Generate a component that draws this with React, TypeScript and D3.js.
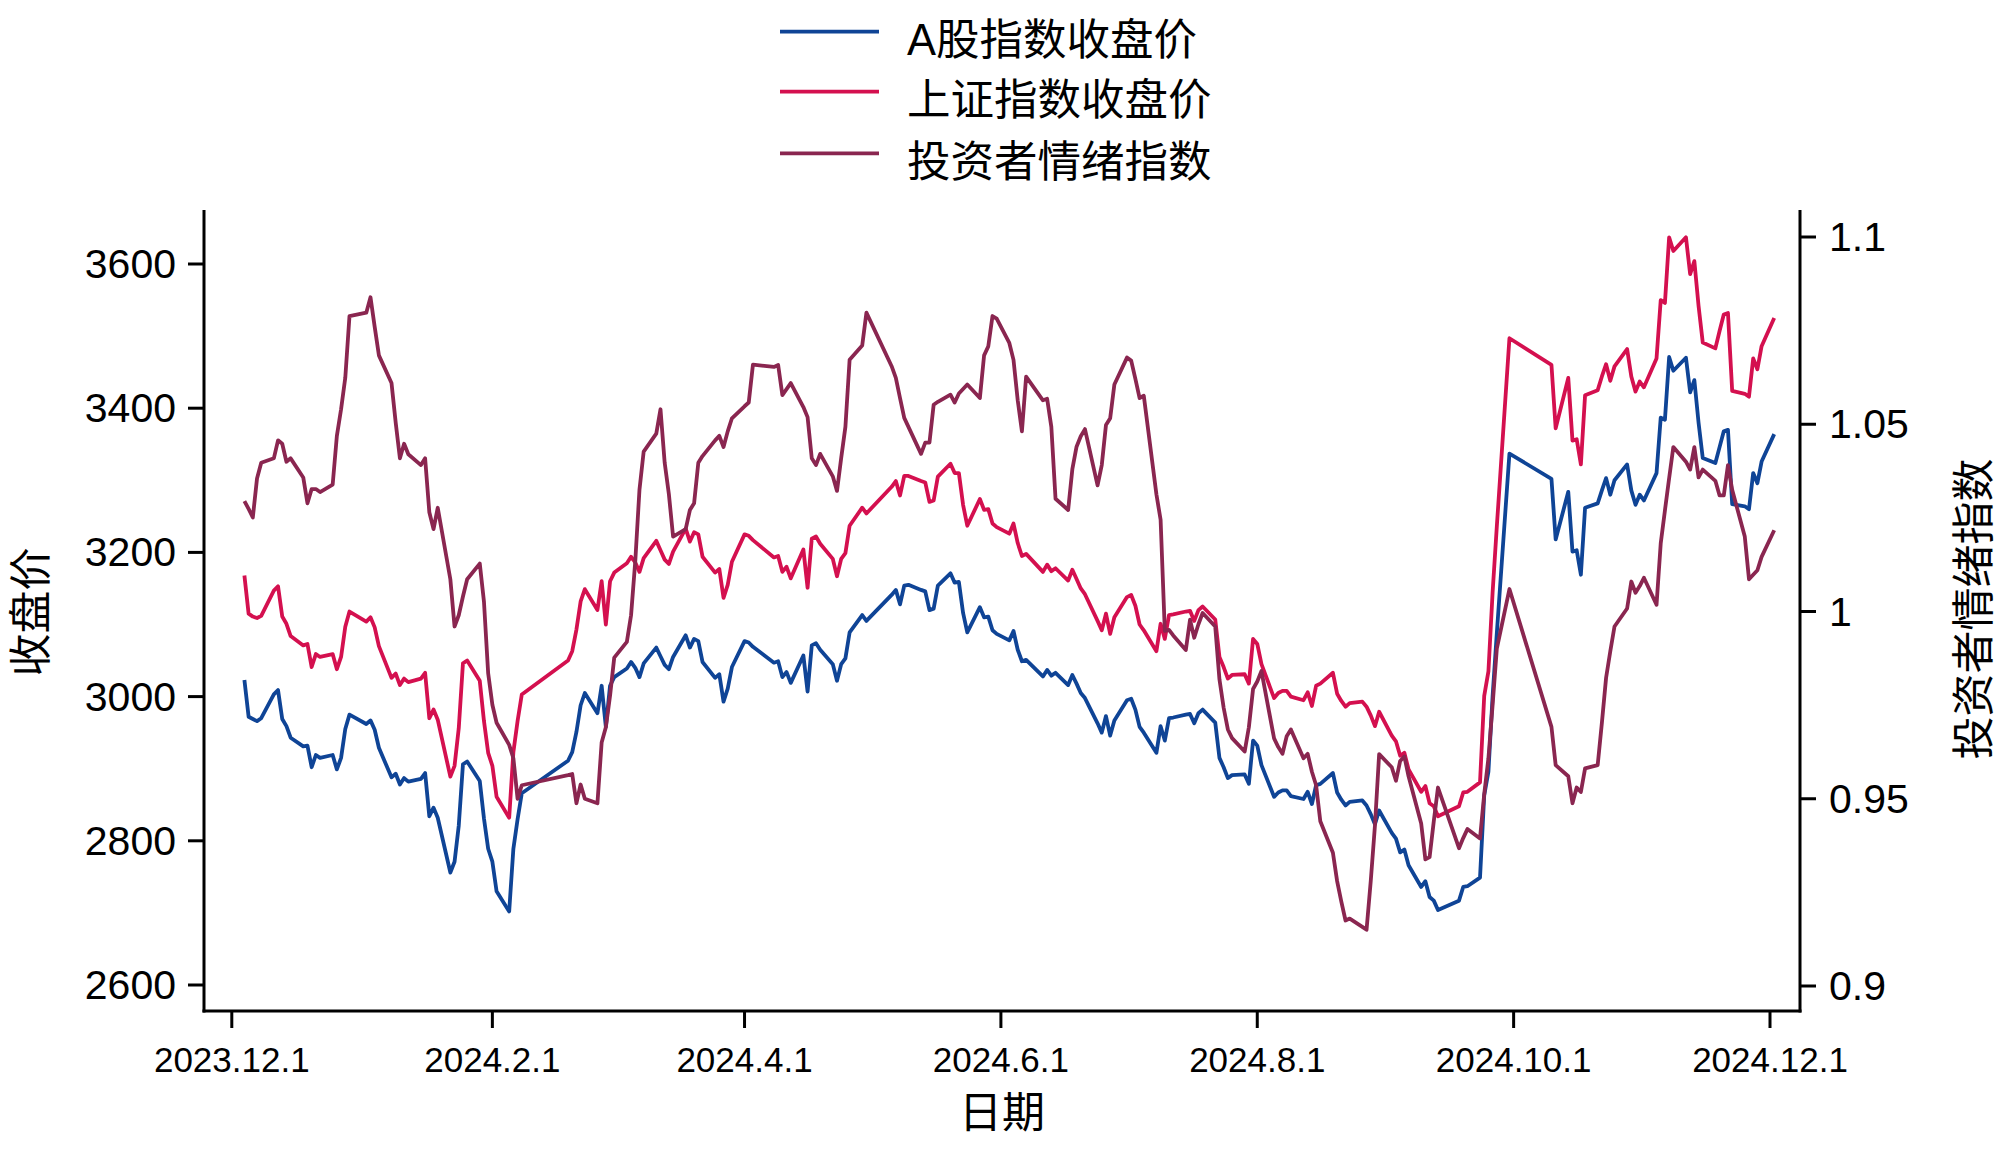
import React from 'react';
import * as d3 from 'd3';

// trading days (Oct 8-9 2024 are absent in the source data)
const tradeDays = [
  '2023-12-04','2023-12-05','2023-12-06','2023-12-07','2023-12-08','2023-12-11','2023-12-12','2023-12-13','2023-12-14','2023-12-15',
  '2023-12-18','2023-12-19','2023-12-20','2023-12-21','2023-12-22','2023-12-25','2023-12-26','2023-12-27','2023-12-28','2023-12-29',
  '2024-01-02','2024-01-03','2024-01-04','2024-01-05','2024-01-08','2024-01-09','2024-01-10','2024-01-11','2024-01-12','2024-01-15',
  '2024-01-16','2024-01-17','2024-01-18','2024-01-19','2024-01-22','2024-01-23','2024-01-24','2024-01-25','2024-01-26','2024-01-29',
  '2024-01-30','2024-01-31',
  '2024-02-01','2024-02-02','2024-02-05','2024-02-06','2024-02-07','2024-02-08','2024-02-19','2024-02-20','2024-02-21','2024-02-22',
  '2024-02-23','2024-02-26','2024-02-27','2024-02-28','2024-02-29',
  '2024-03-01','2024-03-04','2024-03-05','2024-03-06','2024-03-07','2024-03-08','2024-03-11','2024-03-12','2024-03-13','2024-03-14',
  '2024-03-15','2024-03-18','2024-03-19','2024-03-20','2024-03-21','2024-03-22','2024-03-25','2024-03-26','2024-03-27','2024-03-28',
  '2024-03-29',
  '2024-04-01','2024-04-02','2024-04-03','2024-04-08','2024-04-09','2024-04-10','2024-04-11','2024-04-12','2024-04-15','2024-04-16',
  '2024-04-17','2024-04-18','2024-04-19','2024-04-22','2024-04-23','2024-04-24','2024-04-25','2024-04-26','2024-04-29','2024-04-30',
  '2024-05-06','2024-05-07','2024-05-08','2024-05-09','2024-05-10','2024-05-13','2024-05-14','2024-05-15','2024-05-16','2024-05-17',
  '2024-05-20','2024-05-21','2024-05-22','2024-05-23','2024-05-24','2024-05-27','2024-05-28','2024-05-29','2024-05-30','2024-05-31',
  '2024-06-03','2024-06-04','2024-06-05','2024-06-06','2024-06-07','2024-06-11','2024-06-12','2024-06-13','2024-06-14','2024-06-17',
  '2024-06-18','2024-06-19','2024-06-20','2024-06-21','2024-06-24','2024-06-25','2024-06-26','2024-06-27','2024-06-28',
  '2024-07-01','2024-07-02','2024-07-03','2024-07-04','2024-07-05','2024-07-08','2024-07-09','2024-07-10','2024-07-11','2024-07-12',
  '2024-07-15','2024-07-16','2024-07-17','2024-07-18','2024-07-19','2024-07-22','2024-07-23','2024-07-24','2024-07-25','2024-07-26',
  '2024-07-29','2024-07-30','2024-07-31',
  '2024-08-01','2024-08-02','2024-08-05','2024-08-06','2024-08-07','2024-08-08','2024-08-09','2024-08-12','2024-08-13','2024-08-14',
  '2024-08-15','2024-08-16','2024-08-19','2024-08-20','2024-08-21','2024-08-22','2024-08-23','2024-08-26','2024-08-27','2024-08-28',
  '2024-08-29','2024-08-30',
  '2024-09-02','2024-09-03','2024-09-04','2024-09-05','2024-09-06','2024-09-09','2024-09-10','2024-09-11','2024-09-12','2024-09-13',
  '2024-09-18','2024-09-19','2024-09-20','2024-09-23','2024-09-24','2024-09-25','2024-09-26','2024-09-27','2024-09-30',
  '2024-10-10','2024-10-11','2024-10-14','2024-10-15','2024-10-16','2024-10-17','2024-10-18','2024-10-21','2024-10-22','2024-10-23',
  '2024-10-24','2024-10-25','2024-10-28','2024-10-29','2024-10-30','2024-10-31',
  '2024-11-01','2024-11-04','2024-11-05','2024-11-06','2024-11-07','2024-11-08','2024-11-11','2024-11-12','2024-11-13','2024-11-14',
  '2024-11-15','2024-11-18','2024-11-19','2024-11-20','2024-11-21','2024-11-22','2024-11-25','2024-11-26','2024-11-27','2024-11-28',
  '2024-11-29','2024-12-02',
];

const aShareClose = [
  3023, 2972, 2969, 2966, 2970, 3003, 3009, 2969, 2959, 2943, 2931, 2932, 2902, 2919, 2915, 2919, 2899, 2915, 2955, 2975,
  2962, 2967, 2954, 2929, 2888, 2893, 2878, 2887, 2882, 2886, 2894, 2834, 2846, 2832, 2756, 2771, 2821, 2906, 2910, 2883,
  2831, 2789,
  2771, 2730, 2702, 2789, 2830, 2866, 2911, 2923, 2951, 2988, 3005, 2977, 3015, 2958, 3015,
  3027, 3039, 3048, 3040, 3027, 3046, 3068, 3056, 3044, 3038, 3055, 3085, 3068, 3080, 3077, 3048, 3026, 3031, 2993, 3011,
  3041,
  3077, 3075, 3069, 3047, 3049, 3027, 3034, 3019, 3057, 3007, 3071, 3074, 3065, 3045, 3022, 3045, 3053, 3089, 3113, 3105,
  3141, 3148, 3128, 3154, 3155, 3148, 3146, 3120, 3122, 3154, 3171, 3158, 3159, 3116, 3089, 3124, 3110, 3111, 3092, 3087,
  3078, 3091, 3065, 3049, 3051, 3028, 3037, 3029, 3033, 3016, 3030, 3018, 3005, 2998, 2963, 2950, 2973, 2946, 2967,
  2995, 2997, 2982, 2958, 2950, 2922, 2959, 2939, 2970, 2971, 2975, 2976, 2963, 2977, 2982, 2964, 2915, 2902, 2887, 2891,
  2892, 2879, 2939,
  2932, 2905, 2861, 2867, 2870, 2870, 2862, 2858, 2868, 2851, 2877, 2879, 2894, 2867, 2857, 2849, 2854, 2856, 2849, 2837,
  2823, 2842,
  2811, 2803, 2784, 2788, 2766, 2736, 2744, 2722, 2717, 2704, 2717, 2736, 2737, 2749, 2863, 2896, 3001, 3088, 3337,
  3302, 3218, 3284, 3201, 3203, 3169, 3262, 3268, 3286, 3303, 3280, 3300, 3322, 3286, 3266, 3280,
  3272, 3310, 3387, 3384, 3471, 3452, 3470, 3422, 3439, 3380, 3331, 3324, 3346, 3368, 3370, 3267, 3264, 3260, 3310, 3296,
  3326, 3364,
];

const shIndexClose = [
  3168, 3115, 3111, 3109, 3112, 3147, 3153, 3111, 3101, 3084, 3071, 3073, 3041, 3059, 3055, 3059, 3038, 3055, 3097, 3118,
  3104, 3110, 3096, 3070, 3026, 3032, 3016, 3025, 3020, 3025, 3033, 2970, 2982, 2968, 2889, 2904, 2956, 3046, 3050, 3022,
  2966, 2922,
  2904, 2861, 2832, 2923, 2966, 3003, 3050, 3063, 3093, 3132, 3149, 3120, 3160, 3100, 3160,
  3172, 3185, 3194, 3186, 3173, 3192, 3216, 3203, 3190, 3184, 3201, 3233, 3215, 3228, 3225, 3194, 3172, 3177, 3137, 3155,
  3187,
  3225, 3223, 3217, 3193, 3195, 3173, 3180, 3164, 3204, 3151, 3219, 3222, 3212, 3191, 3167, 3191, 3199, 3237, 3262, 3254,
  3291, 3299, 3279, 3306, 3306, 3299, 3297, 3270, 3272, 3305, 3323, 3310, 3310, 3266, 3237, 3274, 3259, 3260, 3240, 3235,
  3226, 3240, 3213, 3195, 3198, 3173, 3183, 3174, 3178, 3161, 3176, 3163, 3150, 3142, 3105, 3092, 3115, 3087, 3110,
  3138, 3141, 3126, 3100, 3092, 3063, 3101, 3080, 3113, 3114, 3118, 3119, 3105, 3120, 3125, 3107, 3055, 3041, 3025, 3030,
  3031, 3018, 3080,
  3073, 3045, 2998, 3005, 3008, 3008, 3000, 2995, 3006, 2987, 3015, 3018, 3033, 3004, 2994, 2986, 2991, 2993, 2986, 2974,
  2959, 2979,
  2946, 2938, 2918, 2922, 2899, 2868, 2876, 2852, 2848, 2834, 2848, 2867, 2868, 2881, 3001, 3035, 3145, 3236, 3497,
  3460, 3372, 3442, 3355, 3357, 3322, 3418, 3425, 3444, 3461, 3438, 3458, 3482, 3444, 3423, 3437,
  3429, 3469, 3550, 3546, 3637, 3618, 3637, 3586, 3604, 3542, 3491, 3483, 3507, 3530, 3532, 3424, 3420, 3416, 3469, 3454,
  3486, 3525,
];

const sentimentIndex = [
  1.0295, 1.0274, 1.0251, 1.0355, 1.0397, 1.0409, 1.0457, 1.0448, 1.0400, 1.0409,
  1.0358, 1.0289, 1.0327, 1.0327, 1.0319, 1.0339, 1.0469, 1.0540, 1.0624, 1.0789,
  1.0798, 1.0839, 1.0760, 1.0684, 1.0610, 1.0504, 1.0409, 1.0448, 1.0420, 1.0391,
  1.0409, 1.0265, 1.0220, 1.0277, 1.0086, 0.9960, 0.9990, 1.0040, 1.0086, 1.0128,
  1.0026, 0.9835,
  0.9751, 0.9703, 0.9644, 0.9608, 0.9500, 0.9536, 0.9563, 0.9566, 0.9488, 0.9538,
  0.9500, 0.9488, 0.9650, 0.9691, 0.9775,
  0.9877, 0.9919, 0.9990, 1.0134, 1.0325, 1.0427, 1.0475, 1.0540, 1.0397, 1.0313,
  1.0200, 1.0220, 1.0271, 1.0289, 1.0397, 1.0415, 1.0457, 1.0469, 1.0439, 1.0481,
  1.0516,
  1.0548, 1.0558, 1.0659, 1.0653, 1.0658, 1.0578, 1.0594, 1.0610, 1.0546, 1.0519,
  1.0409, 1.0391, 1.0421, 1.0361, 1.0322, 1.0410, 1.0493, 1.0672, 1.0710, 1.0798,
  1.0655, 1.0624, 1.0570, 1.0517, 1.0493, 1.0421, 1.0451, 1.0451, 1.0552, 1.0560,
  1.0579, 1.0558, 1.0582, 1.0594, 1.0606, 1.0570, 1.0684, 1.0708, 1.0789, 1.0782,
  1.0717, 1.0672, 1.0564, 1.0481, 1.0627, 1.0564, 1.0568, 1.0493, 1.0301, 1.0271,
  1.0380, 1.0440, 1.0468, 1.0487, 1.0337, 1.0391, 1.0498, 1.0516, 1.0606,
  1.0678, 1.0670, 1.0621, 1.0570, 1.0576, 1.0313, 1.0245, 0.9948, 0.9951, 0.9936,
  0.9897, 0.9978, 0.9930, 0.9966, 0.9996, 0.9960, 0.9819, 0.9743, 0.9685, 0.9662,
  0.9626, 0.9691, 0.9793,
  0.9813, 0.9841, 0.9661, 0.9638, 0.9620, 0.9667, 0.9685, 0.9608, 0.9620, 0.9572,
  0.9536, 0.9440, 0.9356, 0.9280, 0.9225, 0.9175, 0.9180, 0.9158, 0.9150, 0.9280,
  0.9428, 0.9619,
  0.9584, 0.9548, 0.9601, 0.9613, 0.9560, 0.9434, 0.9338, 0.9344, 0.9440, 0.9530,
  0.9368, 0.9395, 0.9419, 0.9394, 0.9512, 0.9608, 0.9751, 0.9901, 1.0060,
  0.9692, 0.9590, 0.9560, 0.9488, 0.9530, 0.9518, 0.9581, 0.9590, 0.9703, 0.9823,
  0.9894, 0.9960, 1.0008, 1.0080, 1.0050, 1.0068,
  1.0090, 1.0018, 1.0182, 1.0270, 1.0356, 1.0439, 1.0400, 1.0379, 1.0439, 1.0358,
  1.0379, 1.0349, 1.0310, 1.0310, 1.0391, 1.0325, 1.0200, 1.0086, 1.0098, 1.0110,
  1.0146, 1.0217,
];

const seriesNames = ['A股指数收盘价', '上证指数收盘价', '投资者情绪指数'];
const seriesColors = ['#0f4496', '#d4104f', '#8a2650'];
const leftTicks = [2600, 2800, 3000, 3200, 3400, 3600];
const rightTicks = [0.9, 0.95, 1, 1.05, 1.1];
const xTickDays = ['2023-12-01', '2024-02-01', '2024-04-01', '2024-06-01', '2024-08-01', '2024-10-01', '2024-12-01'];

const FONT = "'Liberation Sans', Arial, 'Noto Sans CJK SC', sans-serif";
const parse = d3.timeParse('%Y-%m-%d');
const fmtTick = (d: Date) => `${d.getFullYear()}.${d.getMonth() + 1}.${d.getDate()}`;

const W = 2000;
const H = 1150;
const frame = { left: 204, right: 1800, top: 210, bottom: 1011 };

export default function App() {
  const dates = tradeDays.map((s) => parse(s) as Date);

  const x = d3.scaleTime().domain([parse('2023-12-01') as Date, parse('2024-12-01') as Date]).range([231.8, 1770]);
  const yL = d3.scaleLinear().domain([2600, 3600]).range([985, 264]);
  const yR = d3.scaleLinear().domain([0.9, 1.1]).range([986, 237]);

  const lineL = d3.line<number>().x((_, i) => x(dates[i])).y((v) => yL(v));
  const lineR = d3.line<number>().x((_, i) => x(dates[i])).y((v) => yR(v));

  const paths = [lineL(aShareClose), lineL(shIndexClose), lineR(sentimentIndex)];

  return (
    <svg width={W} height={H} style={{ position: 'absolute', left: 0, top: 0, background: '#fff' }} fontFamily={FONT}>
      <rect width={W} height={H} fill="#fff" />

      {/* series */}
      {paths.map((d, i) => (
        <path key={i} d={d || ''} fill="none" stroke={seriesColors[i]} strokeWidth={3.8} strokeLinejoin="round" />
      ))}

      {/* axes */}
      <g stroke="#000" strokeWidth={3} fill="none">
        <line x1={frame.left} x2={frame.left} y1={frame.top} y2={frame.bottom + 1.5} />
        <line x1={frame.right} x2={frame.right} y1={frame.top} y2={frame.bottom + 1.5} />
        <line x1={frame.left - 1.5} x2={frame.right + 1.5} y1={frame.bottom} y2={frame.bottom} />
        {leftTicks.map((t) => (
          <line key={'l' + t} x1={frame.left - 16} x2={frame.left} y1={yL(t)} y2={yL(t)} />
        ))}
        {rightTicks.map((t) => (
          <line key={'r' + t} x1={frame.right} x2={frame.right + 16} y1={yR(t)} y2={yR(t)} />
        ))}
        {xTickDays.map((s) => {
          const xx = x(parse(s) as Date);
          return <line key={'x' + s} x1={xx} x2={xx} y1={frame.bottom} y2={frame.bottom + 17} />;
        })}
      </g>

      {/* tick labels */}
      <g fontSize={41} fill="#000">
        {leftTicks.map((t) => (
          <text key={'lt' + t} x={176} y={yL(t)} textAnchor="end" dominantBaseline="central">
            {t}
          </text>
        ))}
        {rightTicks.map((t) => (
          <text key={'rt' + t} x={1829} y={yR(t)} textAnchor="start" dominantBaseline="central">
            {d3.format('~g')(t)}
          </text>
        ))}
      </g>
      <g fontSize={35} fill="#000">
        {xTickDays.map((s) => {
          const dd = parse(s) as Date;
          return (
            <text key={'xt' + s} x={x(dd)} y={1072} textAnchor="middle">
              {fmtTick(dd)}
            </text>
          );
        })}
      </g>

      {/* axis titles */}
      <g fontSize={43} fill="#000">
        <text x={(frame.left + frame.right) / 2} y={1113} textAnchor="middle" dominantBaseline="central">
          日期
        </text>
        <text transform="translate(31,612) rotate(-90)" textAnchor="middle" dominantBaseline="central">
          收盘价
        </text>
        <text transform="translate(1974,609) rotate(-90)" textAnchor="middle" dominantBaseline="central">
          投资者情绪指数
        </text>
      </g>

      {/* legend */}
      <g>
        {seriesNames.map((name, i) => {
          const ly = [31.7, 91.7, 153.3][i];
          return (
            <g key={name}>
              <line x1={780} x2={879} y1={ly} y2={ly} stroke={seriesColors[i]} strokeWidth={3.8} />
              <text x={907} y={ly + 8.5} fontSize={43.5} fill="#000" dominantBaseline="central">
                {name}
              </text>
            </g>
          );
        })}
      </g>
    </svg>
  );
}
